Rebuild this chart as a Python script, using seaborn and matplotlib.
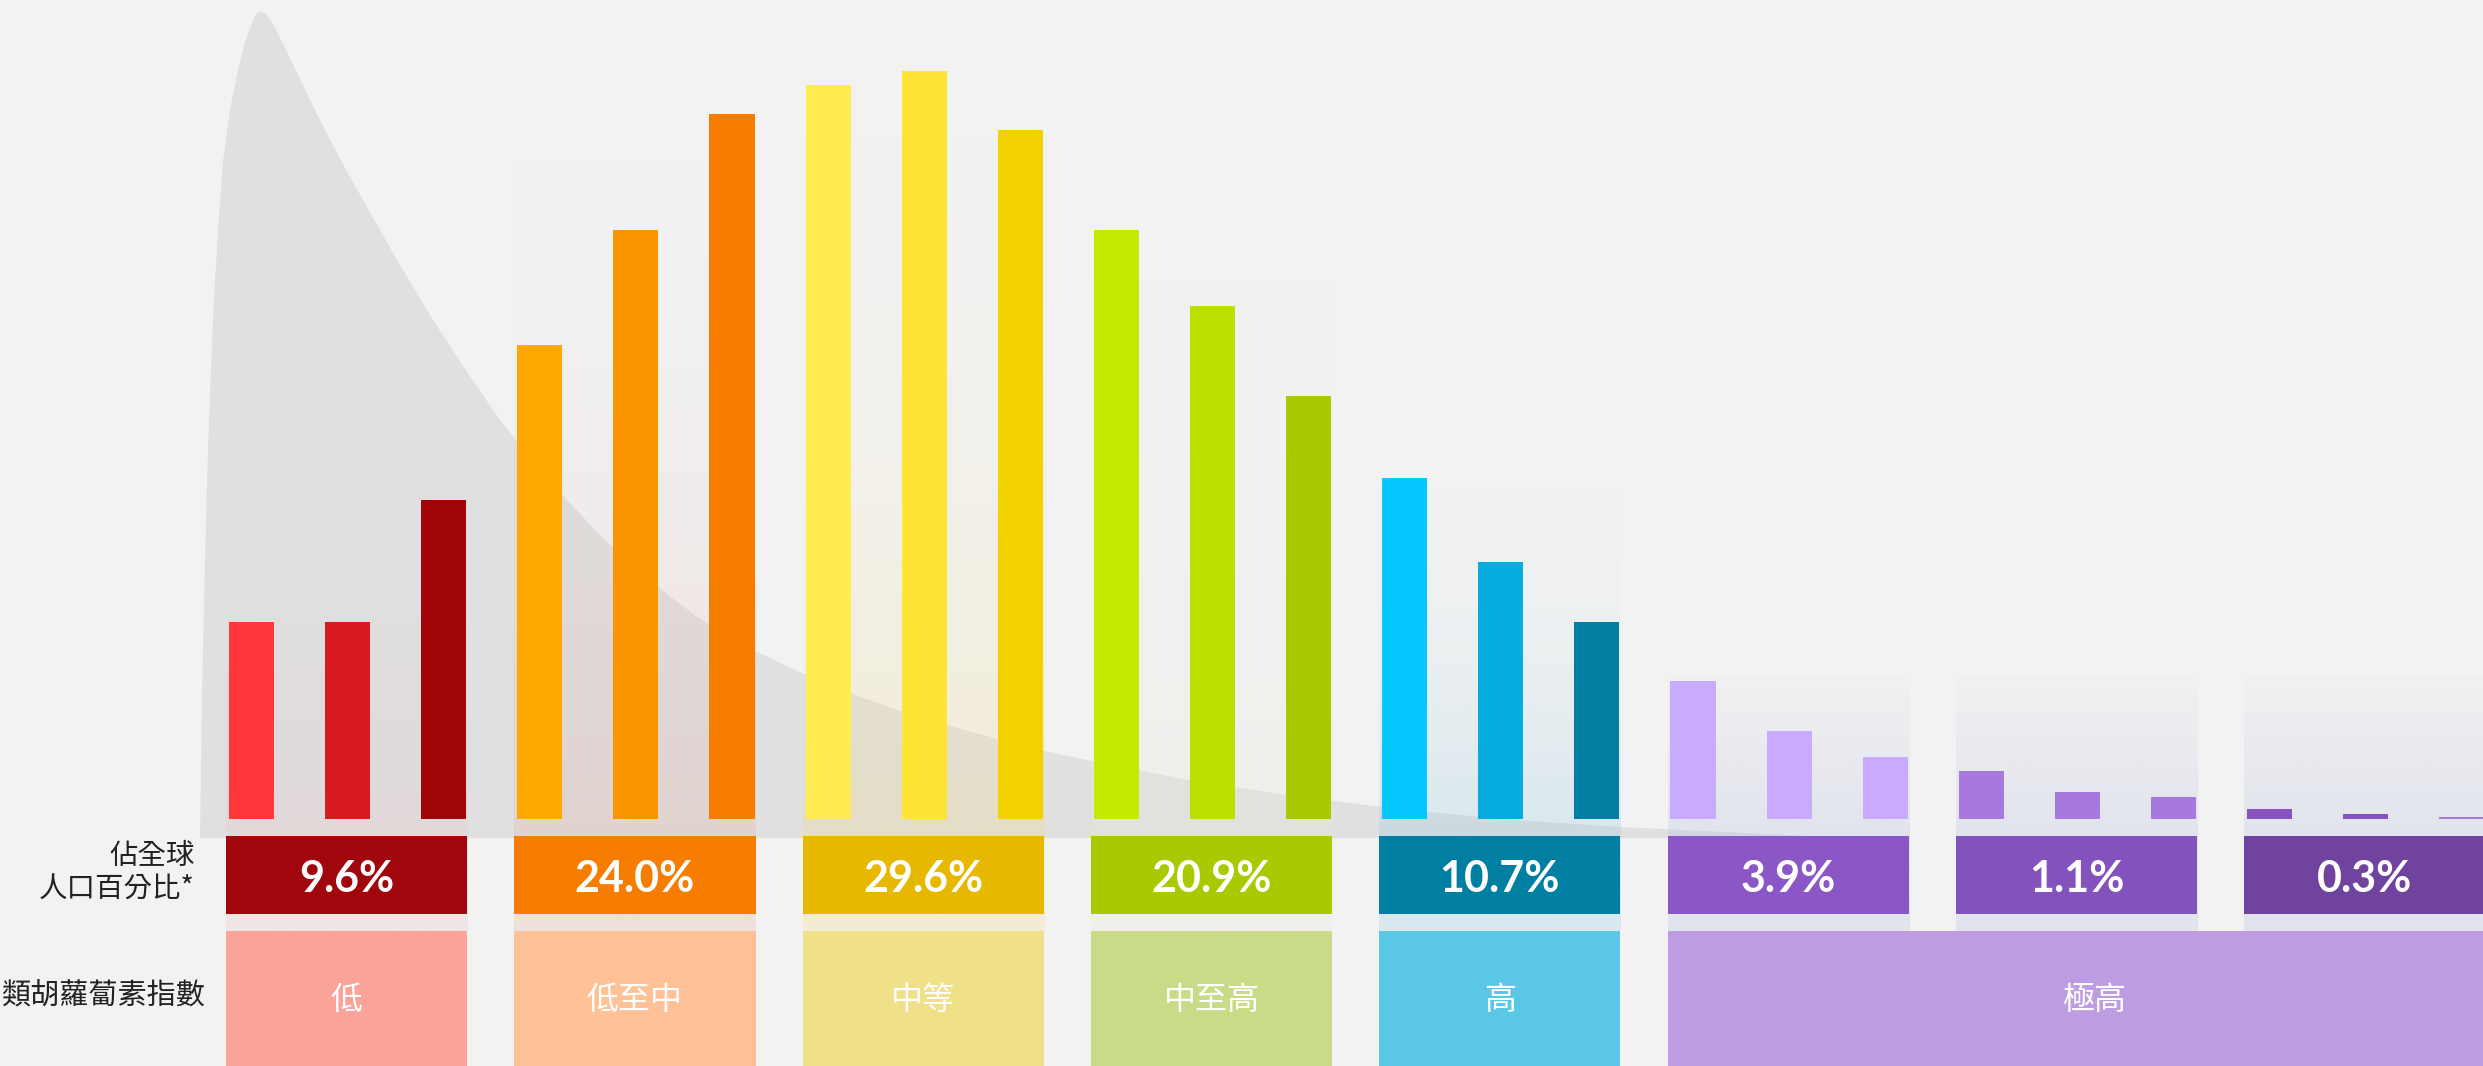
import numpy as np
import pandas as pd
import matplotlib.pyplot as plt
from matplotlib.patches import Rectangle
from matplotlib.colors import to_rgb
import seaborn as sns

# bar heights (pixels above the common baseline)
bar_heights = [197, 197, 319,
               474, 589, 705,
               734, 748, 689,
               589, 513, 423,
               341, 257, 197,
               138, 88, 62,
               48, 27, 22,
               10, 5, 2]
bar_colors = ["#FF363A", "#D71A1F", "#A0050A",
              "#FFA800", "#FA9500", "#F77D00",
              "#FFEC50", "#FFE433", "#F2D200",
              "#C3EA00", "#BAE000", "#A8CA00",
              "#05C8FF", "#07ADDE", "#007FA3",
              "#C8ABFF", "#C8ABFF", "#C8ABFF",
              "#A779DC", "#A779DC", "#A779DC",
              "#8552BE", "#8552BE", "#A27BD8"]

share_labels = ["9.6%", "24.0%", "29.6%", "20.9%", "10.7%", "3.9%", "1.1%", "0.3%"]
share_colors = ["#A0060B", "#F77D00", "#E6B900", "#A8CA00",
                "#007FA3", "#8B56C6", "#8452BC", "#70449E"]

band_names = ["低", "低至中", "中等", "中至高", "高", "極高"]
band_span = [(0, 0), (1, 1), (2, 2), (3, 3), (4, 4), (5, 7)]
band_colors = ["#FAA398", "#FFC297", "#F0E087", "#C9DB86", "#5BC7E6", "#BE9CE1"]

panel_tints = ["#E6C2C2", "#E2AA9E", "#F2DA7E", "#EAE6D6",
               "#8ECAE2", "#AEBADE", "#AEBADE", "#AEBADE"]
panel_tops = [380, 60, 40, 200, 440, 677, 677, 677]

row_label_top = ["佔全球", "人口百分比*"]
row_label_bottom = "類胡蘿蔔素指數"

# outline of the grey distribution shape, in pixels of the reference
curve_x = [200, 202, 203, 205, 208, 213, 218, 223, 230, 237, 244, 250, 254,
           258, 262, 266, 272, 280, 290, 300, 313, 326, 345, 367, 400, 433,
           467, 500, 533, 567, 600, 633, 667, 700, 755, 806, 850, 903, 947,
           998, 1044, 1092, 1141, 1189, 1280, 1382, 1500, 1621, 1786, 1850]
curve_y = [838, 700, 650, 560, 450, 317, 230, 162, 110, 75, 45, 28, 18,
           12, 12, 14, 22, 38, 58, 79, 106, 132, 168, 207, 265, 320,
           372, 420, 462, 500, 535, 566, 594, 619, 651, 675, 693, 712, 725,
           739, 751, 761, 771, 780, 794, 807, 819, 827, 835, 838]

# layout (pixels of the reference)
W, H = 2483, 1066
BASE = 819
X0 = 251.5
PITCH = 96.1
BAR_W = 0.47
OVERFLOW = 2520  # the last band box runs past the right edge


def dx(p):
    return (p - X0) / PITCH


def dy(p):
    return BASE - p


sns.set_theme(style="white")
plt.rcParams["font.family"] = ["Noto Sans CJK TC", "DejaVu Sans"]

fig = plt.figure(figsize=(W / 100, H / 100), dpi=100, facecolor="#F2F2F2")
ax = fig.add_axes([0, 0, 1, 1])
ax.set_facecolor("#F2F2F2")

ids = [f"b{i}" for i in range(len(bar_heights))]
df = pd.DataFrame({"bar": ids, "height": bar_heights})
sns.barplot(data=df, x="bar", y="height", hue="bar",
            palette=dict(zip(ids, bar_colors)), legend=False,
            width=BAR_W, errorbar=None, saturation=1, linewidth=0,
            zorder=3, ax=ax)

# grey distribution shape
ax.fill([dx(v) for v in curve_x], [dy(v) for v in curve_y],
        color="#E0E0E0", lw=0, zorder=1)

left_pad = 0.265
right_pad = 0.245

# tinted panels behind each group
for g, tint in enumerate(panel_tints):
    l = 3 * g - left_pad
    r = 3 * g + 2 + right_pad
    top = panel_tops[g]
    n = 200
    ys = np.linspace(top, 931, n)
    start = 0.1 if g >= 5 else 0.0
    t = np.clip((ys - top) / (836 - top), 0, 1)
    if g < 5:
        t = t ** 2
    a = 0.25 * (start + (1 - start) * t)
    img = np.zeros((n, 1, 4))
    img[:, 0, :3] = to_rgb(tint)
    img[:, 0, 3] = a
    ax.imshow(img, extent=(l, r, dy(931), dy(top)), aspect="auto",
              interpolation="bilinear", origin="upper", zorder=2)

# share boxes
for g, (lab, col) in enumerate(zip(share_labels, share_colors)):
    l = 3 * g - left_pad
    r = 3 * g + 2 + right_pad
    ax.add_patch(Rectangle((l, dy(914)), r - l, dy(836) - dy(914),
                           facecolor=col, lw=0, zorder=4))
    ax.text((l + r) / 2, dy(879), lab, ha="center", va="center",
            color="white", fontsize=31, fontweight="bold",
            family=["Lato", "DejaVu Sans"], zorder=5)

# carotenoid index bands
for name, (g0, g1), col in zip(band_names, band_span, band_colors):
    l = 3 * g0 - left_pad
    r = 3 * g1 + 2 + right_pad
    if g1 == len(share_labels) - 1:
        r = dx(OVERFLOW)
    ax.add_patch(Rectangle((l, dy(H + 5)), r - l, dy(931) - dy(H + 5),
                           facecolor=col, lw=0, zorder=4))
    ax.text((l + r) / 2, dy(1000), name, ha="center", va="center",
            color="white", fontsize=23, zorder=5)

# row labels on the left
ax.text(dx(195), dy(856), row_label_top[0], ha="right", va="center",
        color="#222222", fontsize=20.5)
ax.text(dx(195), dy(890), row_label_top[1], ha="right", va="center",
        color="#222222", fontsize=20.5)
ax.text(dx(205), dy(997), row_label_bottom, ha="right", va="center",
        color="#222222", fontsize=21)

ax.set_xlim(dx(0), dx(W))
ax.set_ylim(dy(H), dy(0))
ax.set_axis_off()

fig.savefig("out.png", dpi=100, facecolor=fig.get_facecolor())
